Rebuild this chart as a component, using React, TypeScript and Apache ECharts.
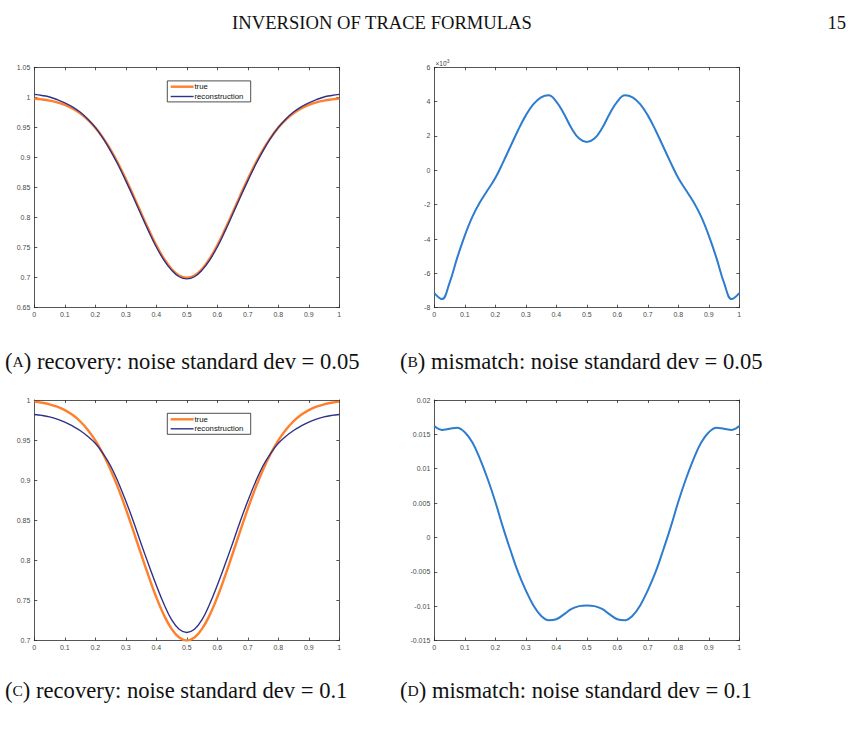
import React, { useEffect, useRef } from "react";
import * as echarts from "echarts";

// ---------- data ----------
const xFine = [0, 0.025, 0.05, 0.075, 0.1, 0.125, 0.15, 0.175, 0.2, 0.225, 0.25, 0.275, 0.3, 0.325, 0.35, 0.375, 0.4, 0.425, 0.45, 0.475, 0.5,
  0.525, 0.55, 0.575, 0.6, 0.625, 0.65, 0.675, 0.7, 0.725, 0.75, 0.775, 0.8, 0.825, 0.85, 0.875, 0.9, 0.925, 0.95, 0.975, 1];

const trueProfile = [0.998, 0.9966, 0.9946, 0.9916, 0.9874, 0.9815, 0.9735, 0.963, 0.9496, 0.933, 0.9131, 0.89, 0.8642, 0.8365, 0.8079, 0.78, 0.7539, 0.7317, 0.7145, 0.7037, 0.7,
  0.7037, 0.7145, 0.7317, 0.7539, 0.78, 0.8079, 0.8365, 0.8642, 0.89, 0.9131, 0.933, 0.9496, 0.963, 0.9735, 0.9815, 0.9874, 0.9916, 0.9946, 0.9966, 0.998];
const reconA = [1.005, 1.0031, 1.0006, 0.9963, 0.991, 0.9843, 0.9755, 0.964, 0.95, 0.932, 0.911, 0.8875, 0.861, 0.8335, 0.805, 0.777, 0.751, 0.7292, 0.7125, 0.7015, 0.698,
  0.7015, 0.7125, 0.7292, 0.751, 0.777, 0.805, 0.8335, 0.861, 0.8875, 0.911, 0.932, 0.95, 0.964, 0.9755, 0.9843, 0.991, 0.9963, 1.0006, 1.0031, 1.005];
const reconC = [0.982, 0.9808, 0.979, 0.9762, 0.9725, 0.9677, 0.962, 0.9548, 0.946, 0.9335, 0.918, 0.8975, 0.874, 0.8485, 0.821, 0.7945, 0.769, 0.7455, 0.726, 0.714, 0.71,
  0.714, 0.726, 0.7455, 0.769, 0.7945, 0.821, 0.8485, 0.874, 0.8975, 0.918, 0.9335, 0.946, 0.9548, 0.962, 0.9677, 0.9725, 0.9762, 0.979, 0.9808, 0.982];
// mismatch (B) in units of 1e-3
const mismatchB = [-7.15, -7.5, -6.55, -5.1, -3.8, -2.7, -1.85, -1.15, -0.45, 0.45, 1.4, 2.35, 3.2, 3.85, 4.25, 4.37, 4.0, 3.3, 2.45, 1.85, 1.65,
  1.85, 2.45, 3.3, 4.0, 4.37, 4.25, 3.85, 3.2, 2.35, 1.4, 0.45, -0.45, -1.15, -1.85, -2.7, -3.8, -5.1, -6.55, -7.5, -7.15];
const mismatchD = [0.0162, 0.01565, 0.0158, 0.01597, 0.0153, 0.0138, 0.0114, 0.0085, 0.0052, 0.0015, -0.0019, -0.0051, -0.0077, -0.0099, -0.0114, -0.01205, -0.0119, -0.0112, -0.0104, -0.01, -0.0099,
  -0.01, -0.0104, -0.0112, -0.0119, -0.01205, -0.0114, -0.0099, -0.0077, -0.0051, -0.0019, 0.0015, 0.0052, 0.0085, 0.0114, 0.0138, 0.0153, 0.01597, 0.0158, 0.01565, 0.0162];

const legendNames = ["true", "reconstruction"];
const headerText = "INVERSION OF TRACE FORMULAS";
const pageNumber = "15";
const captions = [
  { tag: "A", rest: " recovery: noise standard dev = 0.05" },
  { tag: "B", rest: " mismatch: noise standard dev = 0.05" },
  { tag: "C", rest: " recovery: noise standard dev = 0.1" },
  { tag: "D", rest: " mismatch: noise standard dev = 0.1" },
];

// ---------- styles ----------
const AX_FONT = "'Liberation Sans', Arial, Helvetica, sans-serif";
const SERIF = "'Liberation Serif', 'Times New Roman', serif";
const ORANGE = "#FF7F2A";
const NAVY = "#2E3188";
const BLUE = "#2D7CCF";
const axisLineStyle = { color: "#2b2b2b", width: 0.8 };

const grids = [
  { left: 34.3, top: 67.3, width: 305, height: 240.4 },
  { left: 434.3, top: 67.3, width: 305, height: 240.4 },
  { left: 34.3, top: 400, width: 305, height: 240.5 },
  { left: 434.3, top: 400, width: 305, height: 240.5 },
];
const yRanges = [
  { min: 0.65, max: 1.05, interval: 0.05 },
  { min: -8, max: 6, interval: 2 },
  { min: 0.7, max: 1.0, interval: 0.05 },
  { min: -0.015, max: 0.02, interval: 0.005 },
];

function pairs(xs: number[], ys: number[]) {
  return xs.map((x, i) => [x, ys[i]]);
}

function buildAxes() {
  const xAxis: any[] = [];
  const yAxis: any[] = [];
  grids.forEach((_, gi) => {
    const common = {
      gridIndex: gi,
      splitLine: { show: false },
      axisLine: { show: true, onZero: false, lineStyle: axisLineStyle },
      axisTick: { show: true, inside: true, length: 3, lineStyle: axisLineStyle },
    };
    const xBase = { ...common, type: "value", min: 0, max: 1, interval: 0.1 };
    xAxis.push({
      ...xBase,
      position: "bottom",
      axisLabel: { show: true, fontSize: 7, color: "#4a4a4a", margin: 3, fontFamily: AX_FONT },
    });
    xAxis.push({ ...xBase, position: "top", axisLabel: { show: false } });
    const yBase = { ...common, type: "value", ...yRanges[gi] };
    yAxis.push({
      ...yBase,
      position: "left",
      axisLabel: { show: true, fontSize: 7, color: "#4a4a4a", margin: 4, fontFamily: AX_FONT },
    });
    yAxis.push({ ...yBase, position: "right", axisLabel: { show: false } });
  });
  return { xAxis, yAxis };
}

function lineSeries(name: string, gi: number, data: number[][], color: string, width: number) {
  return {
    type: "line",
    name,
    xAxisIndex: gi * 2,
    yAxisIndex: gi * 2,
    data,
    symbol: "none",
    showSymbol: false,
    smooth: 0.4,
    silent: true,
    lineStyle: { color, width },
    itemStyle: { color },
  };
}

// legend box drawn as graphic (box, line samples, labels)
function legendGraphic(top: number, row1: number, row2: number) {
  const left = 167.3;
  const lineX1 = 170.7;
  const lineX2 = 193.6;
  const textX = 194.4;
  const rows = [
    { y: row1, color: ORANGE, width: 2.4, name: legendNames[0] },
    { y: row2, color: NAVY, width: 1.4, name: legendNames[1] },
  ];
  const children: any[] = [
    {
      type: "rect",
      shape: { x: left, y: top, width: 83.4, height: 21 },
      style: { fill: "#fff", stroke: "#222", lineWidth: 0.8 },
    },
  ];
  rows.forEach((r) => {
    children.push({
      type: "line",
      shape: { x1: lineX1, y1: r.y, x2: lineX2, y2: r.y },
      style: { stroke: r.color, lineWidth: r.width },
    });
    children.push({
      type: "text",
      x: textX,
      y: r.y,
      style: { text: r.name, fontSize: 7.8, fontFamily: AX_FONT, fill: "#111", textAlign: "left", verticalAlign: "middle" },
    });
  });
  return { type: "group", children, z: 100 };
}

function captionText(c: { tag: string; rest: string }, x: number, y: number) {
  return {
    type: "text",
    x,
    y,
    style: {
      text: `{p|(}{sc|${c.tag}}{p|)${c.rest}}`,
      verticalAlign: "middle",
      textAlign: "left",
      fill: "#111",
      rich: {
        p: { fontSize: 22.6, fontFamily: SERIF, fill: "#111" },
        sc: { fontSize: 15.5, fontFamily: SERIF, fill: "#111" },
      },
    },
  };
}

export default function App() {
  const ref = useRef<HTMLDivElement>(null);
  useEffect(() => {
    document.body.style.margin = "0";
    if (!ref.current) return;
    const chart = echarts.init(ref.current, undefined, { renderer: "svg" });
    const { xAxis, yAxis } = buildAxes();
    const option: any = {
      animation: false,
      backgroundColor: "#fff",
      grid: grids.map((g) => ({ ...g, containLabel: false })),
      xAxis,
      yAxis,
      series: [
        lineSeries("true", 0, pairs(xFine, trueProfile), ORANGE, 2.4),
        lineSeries("reconstruction", 0, pairs(xFine, reconA), NAVY, 1.4),
        lineSeries("mismatch (B)", 1, pairs(xFine, mismatchB), BLUE, 2),
        lineSeries("true", 2, pairs(xFine, trueProfile), ORANGE, 2.4),
        lineSeries("reconstruction", 2, pairs(xFine, reconC), NAVY, 1.4),
        lineSeries("mismatch (D)", 3, pairs(xFine, mismatchD), BLUE, 2),
      ],
      graphic: [
        {
          type: "text",
          x: 382,
          y: 22,
          style: { text: headerText, fontSize: 18.6, fontFamily: SERIF, fill: "#111", textAlign: "center", verticalAlign: "middle" },
        },
        {
          type: "text",
          x: 846,
          y: 22,
          style: { text: pageNumber, fontSize: 18.6, fontFamily: SERIF, fill: "#111", textAlign: "right", verticalAlign: "middle" },
        },
        {
          type: "text",
          x: 435.5,
          y: 63.8,
          style: { text: "×10", fontSize: 6.5, fontFamily: AX_FONT, fill: "#444", textAlign: "left", verticalAlign: "middle" },
        },
        {
          type: "text",
          x: 445,
          y: 60.8,
          style: { text: "-3", fontSize: 5, fontFamily: AX_FONT, fill: "#444", textAlign: "left", verticalAlign: "middle" },
        },
        legendGraphic(80.9, 86.7, 96.5),
        legendGraphic(413.3, 419.3, 428.8),
        captionText(captions[0], 5, 361),
        captionText(captions[1], 400, 361),
        captionText(captions[2], 5, 690),
        captionText(captions[3], 400, 690),
      ],
    };
    chart.setOption(option);
    return () => chart.dispose();
  }, []);
  return <div ref={ref} style={{ width: 854, height: 736 }} />;
}
